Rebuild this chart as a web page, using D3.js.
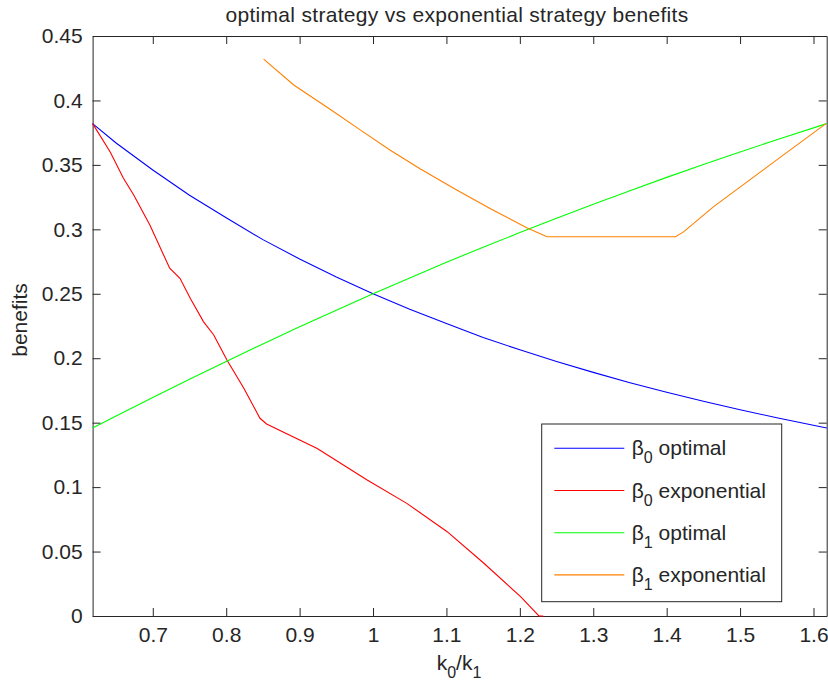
<!DOCTYPE html>
<html>
<head>
<meta charset="utf-8">
<script src="https://cdn.jsdelivr.net/npm/d3@7"></script>
<style>
  body { margin: 0; background: #fff; }
  text { font-family: "Liberation Sans", Arial, sans-serif; fill: #262626; }
</style>
</head>
<body>
<svg id="chart" width="828" height="687"></svg>
<script>
// values (x = k0/k1)
var optX = [0.618, 0.65, 0.7, 0.75, 0.8, 0.85, 0.9, 0.95, 1.0, 1.05, 1.1, 1.15, 1.2, 1.25, 1.3, 1.35, 1.4, 1.45, 1.5, 1.55, 1.618];
var beta0Opt = [0.382, 0.367, 0.346, 0.3265, 0.309, 0.292, 0.277, 0.263, 0.25, 0.238, 0.227, 0.216, 0.2066, 0.1975, 0.189, 0.181, 0.1736, 0.1666, 0.16, 0.1538, 0.1459];
var beta1Opt = [0.1459, 0.1552, 0.1696, 0.1837, 0.1975, 0.2111, 0.2244, 0.2373, 0.25, 0.2623, 0.2744, 0.2861, 0.2975, 0.3086, 0.3195, 0.33, 0.3403, 0.3503, 0.36, 0.3695, 0.382];

var beta0ExpX = [0.618, 0.642, 0.66, 0.674, 0.696, 0.723, 0.737, 0.751, 0.769, 0.783, 0.801, 0.824, 0.846, 0.855, 0.924, 0.992, 1.046, 1.101, 1.151, 1.201, 1.226, 1.232];
var beta0Exp = [0.382, 0.360, 0.3396, 0.3266, 0.3034, 0.2698, 0.262, 0.2465, 0.2284, 0.218, 0.1986, 0.1767, 0.1534, 0.149, 0.130, 0.1055, 0.0874, 0.0654, 0.0409, 0.015, 0.0, 0.0];

var beta1ExpX = [0.851, 0.892, 0.942, 0.983, 1.023, 1.064, 1.114, 1.16, 1.21, 1.237, 1.412, 1.423, 1.464, 1.51, 1.555, 1.617];
var beta1Exp = [0.432, 0.412, 0.393, 0.377, 0.3616, 0.347, 0.3305, 0.316, 0.301, 0.2943, 0.2943, 0.298, 0.3176, 0.337, 0.356, 0.382];

var xTicks = [0.7, 0.8, 0.9, 1.0, 1.1, 1.2, 1.3, 1.4, 1.5, 1.6];
var yTicks = [0, 0.05, 0.1, 0.15, 0.2, 0.25, 0.3, 0.35, 0.4, 0.45];

var seriesNames = ["optimal", "exponential", "optimal", "exponential"];
var seriesSubs = ["0", "0", "1", "1"];
var seriesColors = ["#0000ff", "#ff0000", "#00ff00", "#ff8000"];

var svg = d3.select("#chart");
var plotLeft = 92.6, plotRight = 826.7, plotTop = 36, plotBottom = 616;

var x = d3.scaleLinear().domain([0.618, 1.618]).range([plotLeft, plotRight]);
var y = d3.scaleLinear().domain([0, 0.45]).range([plotBottom, plotTop]);
var fmt = function(d) { return String(+d.toFixed(2)); };

// axes, ticks pointing inward like matlab
function styleAxis(g) {
  g.selectAll("path.domain").attr("stroke", "#262626");
  g.selectAll(".tick line").attr("stroke", "#262626");
  g.selectAll(".tick text").attr("fill", "#262626").style("font-size", "21px")
    .style("font-family", "'Liberation Sans', Arial, sans-serif");
}
svg.append("g").attr("transform", "translate(0," + plotBottom + ")")
  .call(d3.axisBottom(x).tickValues(xTicks).tickFormat(fmt).tickSizeInner(-8).tickSizeOuter(0).tickPadding(11))
  .call(styleAxis);
svg.append("g").attr("transform", "translate(0," + plotTop + ")")
  .call(d3.axisTop(x).tickValues(xTicks).tickFormat("").tickSizeInner(-8).tickSizeOuter(0))
  .call(styleAxis);
svg.append("g").attr("transform", "translate(" + plotLeft + ",0)")
  .call(d3.axisLeft(y).tickValues(yTicks).tickFormat(fmt).tickSizeInner(-8).tickSizeOuter(0).tickPadding(10))
  .call(styleAxis);
svg.append("g").attr("transform", "translate(" + plotRight + ",0)")
  .call(d3.axisRight(y).tickValues(yTicks).tickFormat("").tickSizeInner(-8).tickSizeOuter(0))
  .call(styleAxis);

// lines
var series = [
  { xs: optX, ys: beta0Opt },
  { xs: beta0ExpX, ys: beta0Exp },
  { xs: optX, ys: beta1Opt },
  { xs: beta1ExpX, ys: beta1Exp }
];
var line = d3.line().x(function(d) { return x(d[0]); }).y(function(d) { return y(d[1]); });
series.forEach(function(s, i) {
  svg.append("path")
    .datum(d3.zip(s.xs, s.ys))
    .attr("d", line)
    .attr("fill", "none")
    .attr("stroke", seriesColors[i])
    .attr("stroke-width", 1.1);
});

// title and axis labels
svg.append("text").attr("x", 457).attr("y", 22).attr("text-anchor", "middle")
  .style("font-size", "21px").style("letter-spacing", "0.3px")
  .text("optimal strategy vs exponential strategy benefits");
svg.append("text").attr("transform", "translate(27,320) rotate(-90)").attr("text-anchor", "middle")
  .style("font-size", "21px").text("benefits");
var xl = svg.append("text").attr("x", 459).attr("y", 670).attr("text-anchor", "middle").style("font-size", "21px");
xl.append("tspan").text("k");
xl.append("tspan").attr("dy", 8).style("font-size", "16px").text("0");
xl.append("tspan").attr("dy", -8).text("/k");
xl.append("tspan").attr("dy", 8).style("font-size", "16px").text("1");

// legend
var lg = svg.append("g");
lg.append("rect").attr("x", 541.7).attr("y", 424).attr("width", 240).attr("height", 177.7)
  .attr("fill", "#fff").attr("stroke", "#262626").attr("stroke-width", 1);
seriesNames.forEach(function(name, i) {
  var ly = 448.3 + i * 42.2;
  lg.append("line").attr("x1", 554.3).attr("x2", 624.3).attr("y1", ly).attr("y2", ly)
    .attr("stroke", seriesColors[i]).attr("stroke-width", 1.1);
  var t = lg.append("text").attr("x", 631.7).attr("y", ly + 7).style("font-size", "21px");
  t.append("tspan").text("\u03b2");
  t.append("tspan").attr("dy", 8).style("font-size", "16px").text(seriesSubs[i]);
  t.append("tspan").attr("dy", -8).text(" " + name);
});
</script>
</body>
</html>
